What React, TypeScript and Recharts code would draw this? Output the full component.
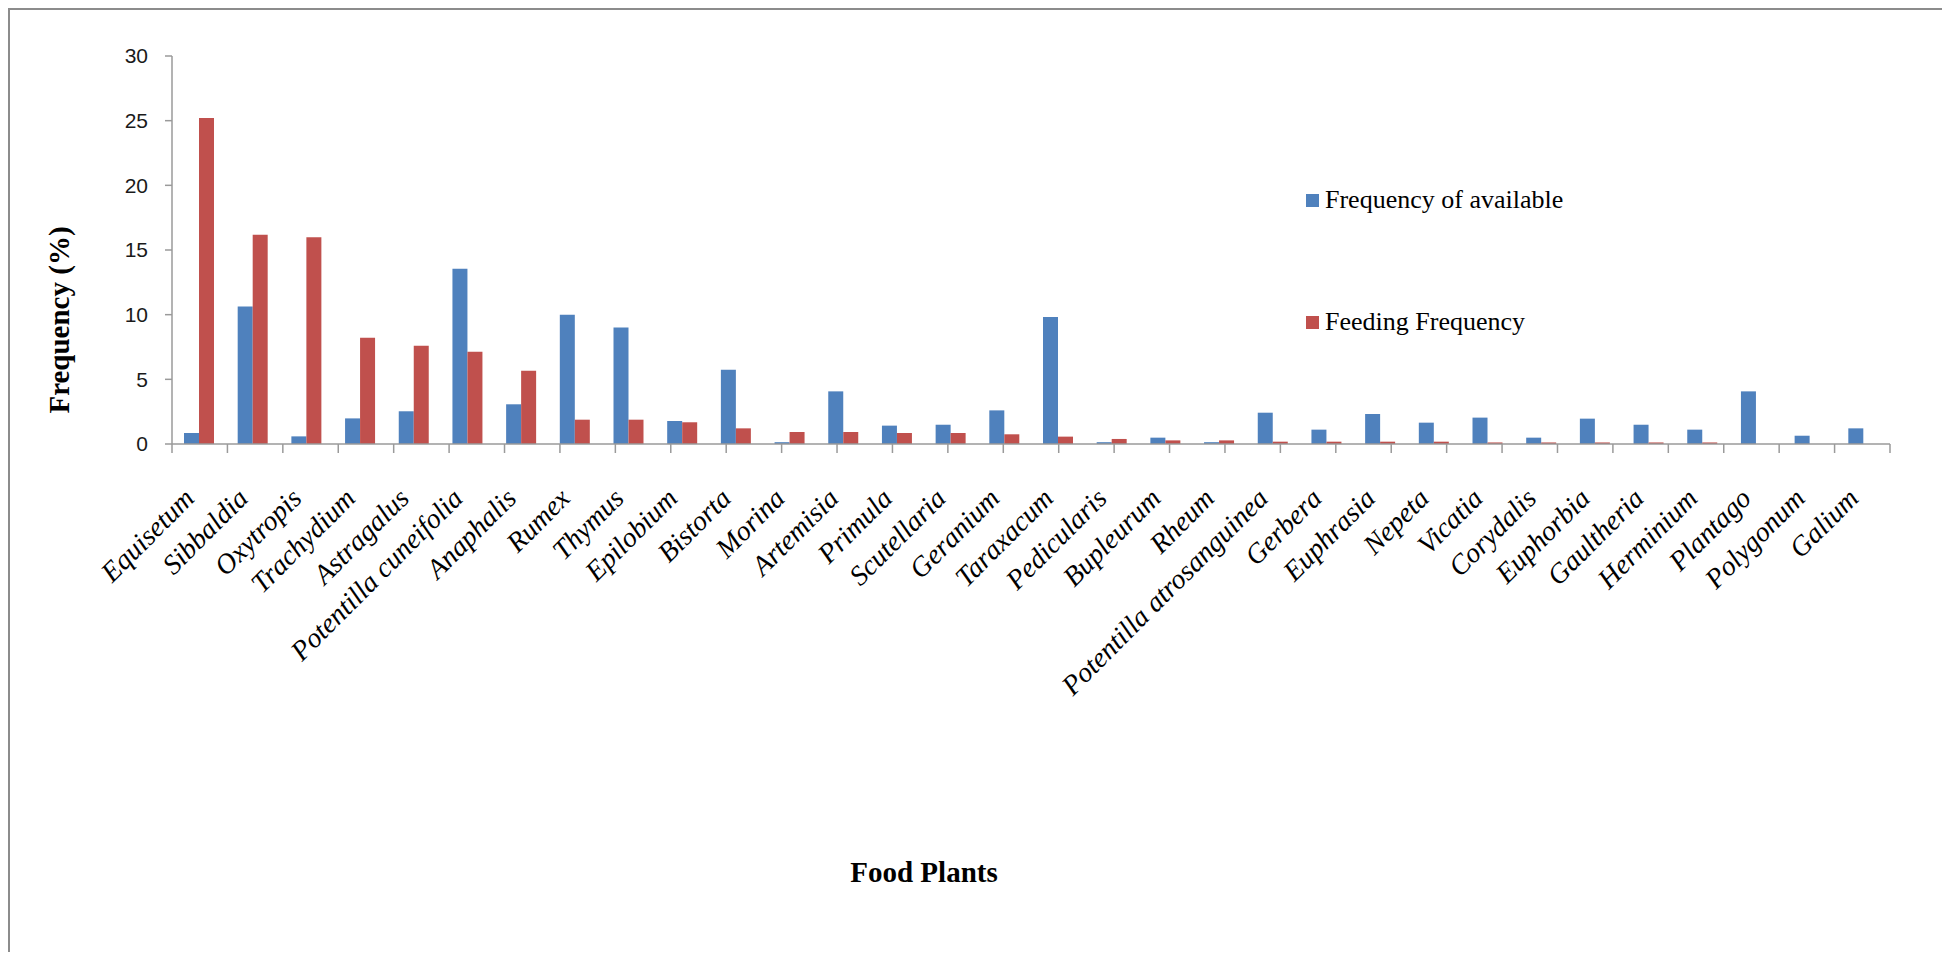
import React from 'react';
import { BarChart, Bar, XAxis, YAxis } from 'recharts';

const categories = [
  'Equisetum', 'Sibbaldia', 'Oxytropis', 'Trachydium', 'Astragalus', 'Potentilla cuneifolia',
  'Anaphalis', 'Rumex', 'Thymus', 'Epilobium', 'Bistorta', 'Morina', 'Artemisia', 'Primula',
  'Scutellaria', 'Geranium', 'Taraxacum', 'Pedicularis', 'Bupleurum', 'Rheum',
  'Potentilla atrosanguinea', 'Gerbera', 'Euphrasia', 'Nepeta', 'Vicatia', 'Corydalis',
  'Euphorbia', 'Gaultheria', 'Herminium', 'Plantago', 'Polygonum', 'Galium',
];

const availableFreq = [
  0.85, 10.64, 0.59, 1.98, 2.53, 13.55, 3.07, 10.0, 9.0, 1.78, 5.75, 0.14, 4.07, 1.42,
  1.49, 2.6, 9.82, 0.14, 0.49, 0.14, 2.42, 1.11, 2.32, 1.65, 2.04, 0.49, 1.96, 1.49, 1.11,
  4.07, 0.64, 1.21,
];

const feedingFreq = [
  25.2, 16.17, 15.98, 8.22, 7.6, 7.14, 5.67, 1.88, 1.88, 1.68, 1.21, 0.93, 0.93, 0.85,
  0.85, 0.75, 0.57, 0.39, 0.28, 0.28, 0.18, 0.18, 0.18, 0.18, 0.12, 0.12, 0.12, 0.12, 0.12,
  0, 0, 0,
];

const yTicks = [0, 5, 10, 15, 20, 25, 30];
const seriesNames = ['Frequency of available', 'Feeding Frequency'];
const seriesColors = ['#4F81BD', '#C0504D'];

const data = categories.map((name, i) => ({
  name,
  available: availableFreq[i],
  feeding: feedingFreq[i],
}));

const boundaryTicks = Array.from({ length: categories.length + 1 }, (_, i) => i);

const CatTick = (props: any) => {
  const { x, y, payload } = props;
  return (
    <g transform={`translate(${x - 3},${y + 46}) rotate(-45)`}>
      <text
        x={0}
        y={0}
        textAnchor="end"
        fill="#000"
        style={{ fontFamily: '"Liberation Serif", "Times New Roman", serif', fontStyle: 'italic', fontSize: 28 }}
      >
        {payload.value}
      </text>
    </g>
  );
};

const EmptyTick = () => <g />;

export default function App() {
  return (
    <div
      style={{
        position: 'relative',
        width: 1936,
        height: 942,
        borderTop: '2px solid #8c8c8c',
        borderLeft: '2px solid #8c8c8c',
        borderRight: '2px solid #8c8c8c',
        overflow: 'hidden',
        background: '#fff',
      }}
    >
      <BarChart
        width={1930}
        height={940}
        data={data}
        margin={{ top: 46, right: 50, left: 0, bottom: 296 }}
        barGap={0}
        barSize={15}
      >
        <XAxis
          xAxisId={0}
          type="number"
          domain={[0, categories.length]}
          ticks={boundaryTicks}
          interval={0}
          tick={<EmptyTick />}
          tickSize={9}
          height={10}
          allowDataOverflow
          axisLine={{ stroke: '#9a9a9a', strokeWidth: 1.5 }}
          tickLine={{ stroke: '#9a9a9a', strokeWidth: 1.5 }}
        />
        <XAxis
          xAxisId="cat"
          dataKey="name"
          interval={0}
          axisLine={false}
          tickLine={false}
          tickSize={0}
          tickMargin={0}
          height={200}
          tick={<CatTick />}
        />
        <YAxis
          domain={[0, 30]}
          ticks={yTicks}
          width={162}
          tickSize={7}
          tickMargin={17}
          axisLine={{ stroke: '#9a9a9a', strokeWidth: 1.5 }}
          tickLine={{ stroke: '#9a9a9a', strokeWidth: 1.5 }}
          tick={{ fill: '#1a1a1a', fontSize: 21, fontFamily: '"Liberation Sans Narrow", "Liberation Sans", Arial, sans-serif' }}
        />
        <Bar xAxisId="cat" dataKey="available" name={seriesNames[0]} fill={seriesColors[0]} isAnimationActive={false} />
        <Bar xAxisId="cat" dataKey="feeding" name={seriesNames[1]} fill={seriesColors[1]} isAnimationActive={false} />
      </BarChart>

      {/* Y axis title */}
      <div
        style={{
          position: 'absolute',
          left: 49,
          top: 310,
          transform: 'translate(-50%, -50%) rotate(-90deg)',
          whiteSpace: 'nowrap',
          fontFamily: '"Liberation Serif", "Times New Roman", serif',
          fontWeight: 'bold',
          fontSize: 29,
          lineHeight: 1,
          color: '#000',
        }}
      >
        Frequency (%)
      </div>

      {/* X axis title */}
      <div
        style={{
          position: 'absolute',
          left: 914,
          top: 862,
          transform: 'translate(-50%, -50%)',
          whiteSpace: 'nowrap',
          fontFamily: '"Liberation Serif", "Times New Roman", serif',
          fontWeight: 'bold',
          fontSize: 29,
          lineHeight: 1,
          color: '#000',
        }}
      >
        Food Plants
      </div>

      {/* Legend */}
      {seriesNames.map((name, i) => (
        <div
          key={name}
          style={{
            position: 'absolute',
            left: 1296,
            top: 190 + i * 122,
            transform: 'translateY(-50%)',
            display: 'flex',
            alignItems: 'center',
            whiteSpace: 'nowrap',
            fontFamily: '"Liberation Serif", "Times New Roman", serif',
            fontSize: 26,
            lineHeight: 1,
            color: '#000',
          }}
        >
          <span style={{ display: 'inline-block', width: 13, height: 13, background: seriesColors[i], marginRight: 6 }} />
          <span>{name}</span>
        </div>
      ))}
    </div>
  );
}
